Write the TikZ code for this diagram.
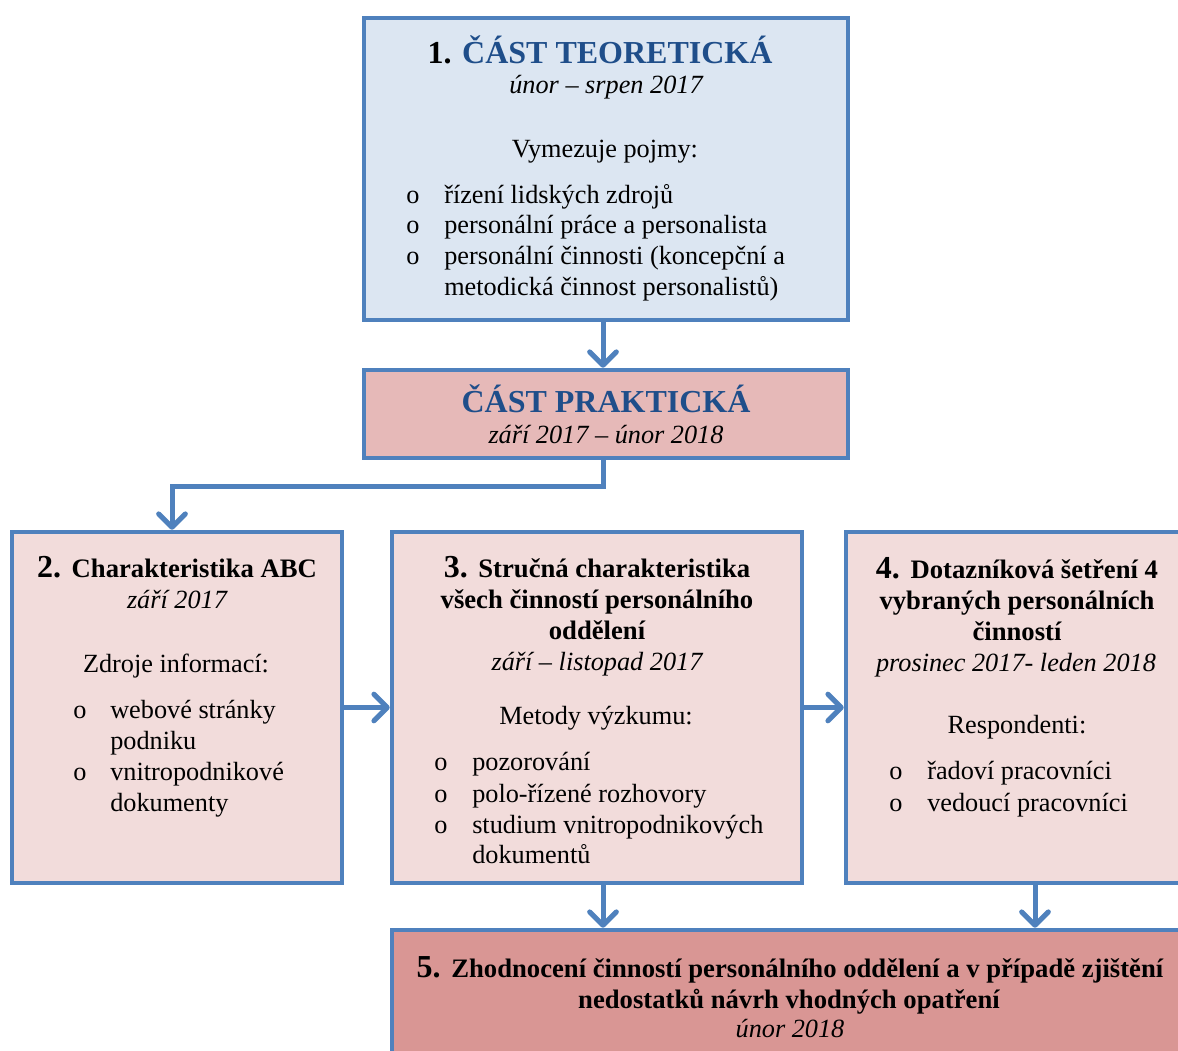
\documentclass[tikz,border=0pt]{standalone}
\usepackage{fontspec}
\setmainfont{Liberation Serif}
\usetikzlibrary{arrows.meta}
\definecolor{ramec}{HTML}{4F81BD}
\definecolor{teorfill}{HTML}{DCE6F2}
\definecolor{praktfill}{HTML}{E6B9B8}
\definecolor{krokfill}{HTML}{F2DCDB}
\definecolor{zaverfill}{HTML}{D99694}
\definecolor{nadpis}{HTML}{1F4E8A}
\newcommand\bodyfs{\fontsize{19.7}{23}\selectfont}
\newcommand\cisfs{\fontsize{24}{28}\selectfont\bfseries}
\newcommand\titfs{\fontsize{20}{23}\selectfont\bfseries}
\begin{document}
\begin{tikzpicture}[x=0.75pt,y=-0.75pt,
   box/.style={draw=ramec,line width=3.4pt,inner sep=0pt},
   sipka/.style={draw=ramec,line width=3.75pt,-{Straight Barb[length=10pt,width=20pt,round]}},
   txt/.style={anchor=base,inner sep=0pt,font=\bodyfs},
   odr/.style={anchor=base west,inner sep=0pt,font=\bodyfs}]
   \useasboundingbox (0,0) rectangle (1178,1050);
   \clip (0,0) rectangle (1178,1050);
   % boxes
   \node[box,fill=teorfill,minimum width=363pt,minimum height=226.5pt] (teorie) at (606,169) {};
   \node[box,fill=praktfill,minimum width=363pt,minimum height=66pt] (prakt) at (606,414) {};
   \node[box,fill=krokfill,minimum width=247.5pt,minimum height=263.25pt] (abc) at (177,707.5) {};
   \node[box,fill=krokfill,minimum width=307.5pt,minimum height=263.25pt] (cinnosti) at (597,707.5) {};
   \node[box,fill=krokfill,minimum width=258pt,minimum height=263.25pt] (setreni) at (1018,707.5) {};
   \node[box,fill=zaverfill,minimum width=598.5pt,minimum height=105pt] (zhodnoceni) at (791,1000) {};
   % arrows
   \draw[sipka] ([xshift=-2.25pt]teorie.south) -- ([xshift=-2.25pt]prakt.north);
   \draw[sipka] ([xshift=-2.25pt]prakt.south) -- ++(0,26) -| ([xshift=-3.75pt]abc.north);
   \draw[sipka] (abc.east) -- (cinnosti.west);
   \draw[sipka] (cinnosti.east) -- (setreni.west);
   \draw[sipka] ([xshift=4.5pt]cinnosti.south) -- ([xshift=4.5pt]cinnosti.south |- zhodnoceni.north);
   \draw[sipka] ([xshift=12.75pt]setreni.south) -- ([xshift=12.75pt]setreni.south |- zhodnoceni.north);
   % 1. cast teoreticka
   \node[txt] (t1) at (600,63) {\cisfs 1. \textcolor{nadpis}{ČÁST TEORETICKÁ}};
   \node[txt] (d1) at (606,93) {\itshape únor – srpen 2017};
   \node[txt] (p1) at (605,157) {Vymezuje pojmy:};
   \foreach \y/\t [count=\i] in {203/řízení lidských zdrojů,233/personální práce a personalista,264/personální činnosti (koncepční a}{
      \node[txt] (o1\i) at (413,\y) {o};
      \node[odr] (r1\i) at (444,\y) {\t};
   }
   \node[odr] (r14) at (444,295) {metodická činnost personalistů)};
   % cast prakticka
   \node[txt] (t0) at (606,412) {\cisfs\textcolor{nadpis}{ČÁST PRAKTICKÁ}};
   \node[txt] (d0) at (606,443) {\itshape září 2017 – únor 2018};
   % 2.
   \node[txt] (t2) at (177,577) {\cisfs 2. \titfs Charakteristika ABC};
   \node[txt] (d2) at (177,608) {\itshape září 2017};
   \node[txt] (p2) at (176,672) {Zdroje informací:};
   \node[txt] (o21) at (80,718) {o};
   \node[txt] (o22) at (80,780) {o};
   \node[odr] (r21) at (110,718) {webové stránky};
   \node[odr] (r22) at (110,749) {podniku};
   \node[odr] (r23) at (110,780) {vnitropodnikové};
   \node[odr] (r24) at (110,811) {dokumenty};
   % 3.
   \node[txt] (t3a) at (597,577) {\cisfs 3. \titfs Stručná charakteristika};
   \node[txt,font=\titfs] (t3b) at (597,608) {všech činností personálního};
   \node[txt,font=\titfs] (t3c) at (597,639) {oddělení};
   \node[txt] (d3) at (597,670) {\itshape září – listopad 2017};
   \node[txt] (p3) at (596,724) {Metody výzkumu:};
   \foreach \y/\t [count=\i] in {770/pozorování,802/polo-řízené rozhovory,833/studium vnitropodnikových}{
      \node[txt] (o3\i) at (441,\y) {o};
      \node[odr] (r3\i) at (472,\y) {\t};
   }
   \node[odr] (r34) at (472,863) {dokumentů};
   % 4.
   \node[txt] (t4a) at (1017,578) {\cisfs 4. \titfs Dotazníková šetření 4};
   \node[txt,font=\titfs] (t4b) at (1017,609) {vybraných personálních};
   \node[txt,font=\titfs] (t4c) at (1017,640) {činností};
   \node[txt] (d4) at (1016,671) {\itshape prosinec 2017- leden 2018};
   \node[txt] (p4) at (1017,733) {Respondenti:};
   \foreach \y/\t [count=\i] in {779/řadoví pracovníci,811/vedoucí pracovníci}{
      \node[txt] (o4\i) at (896,\y) {o};
      \node[odr] (r4\i) at (927,\y) {\t};
   }
   % 5.
   \node[txt] (t5a) at (790,977) {\cisfs 5. \titfs Zhodnocení činností personálního oddělení a v případě zjištění};
   \node[txt,font=\titfs] (t5b) at (789,1008) {nedostatků návrh vhodných opatření};
   \node[txt] (d5) at (790,1037) {\itshape únor 2018};
\end{tikzpicture}
\end{document}
